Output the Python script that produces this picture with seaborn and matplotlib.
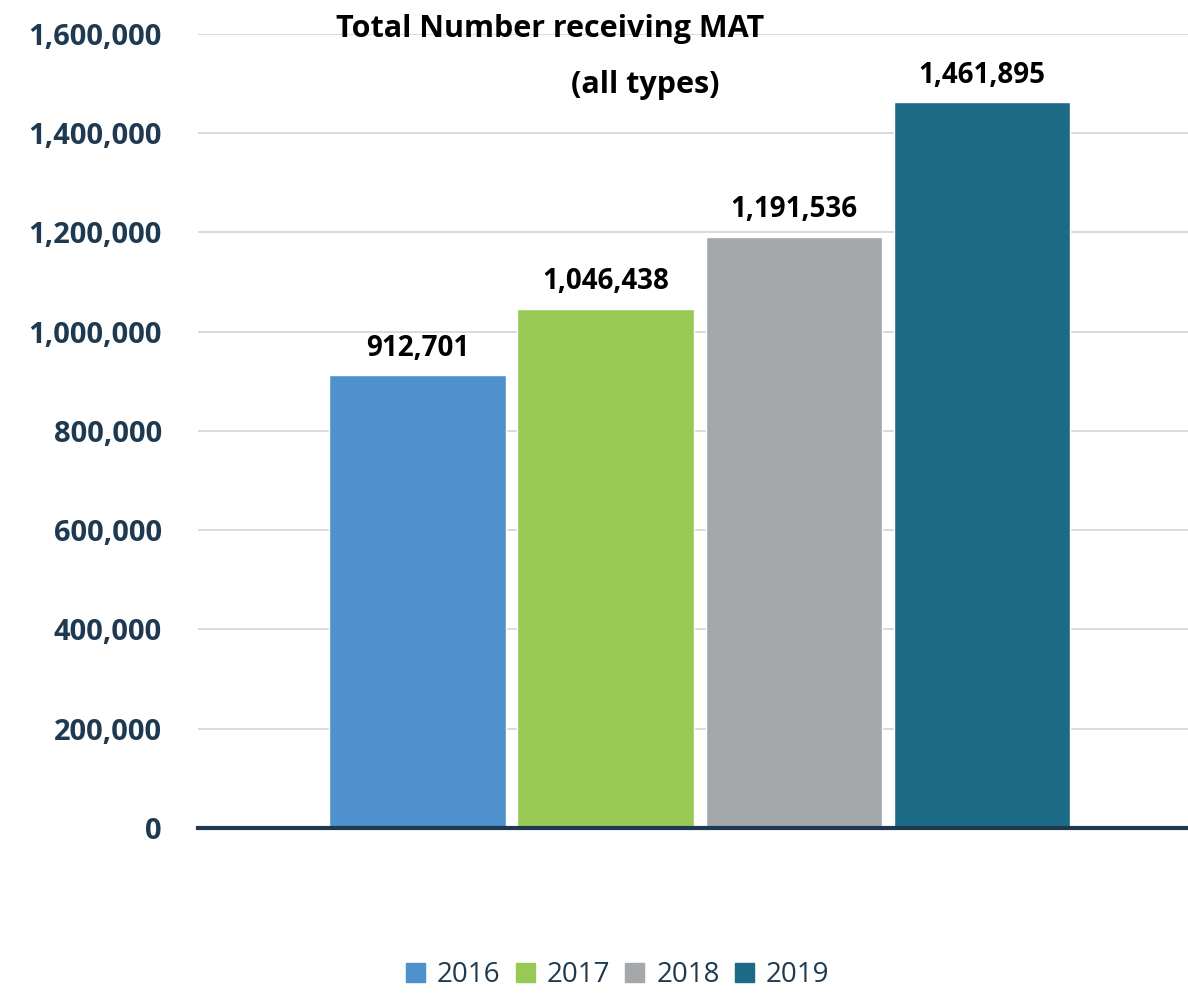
import pandas as pd
import matplotlib
matplotlib.use("Agg")
import matplotlib.pyplot as plt
from matplotlib import font_manager
import seaborn as sns
from matplotlib.ticker import FuncFormatter

years = ["2016", "2017", "2018", "2019"]
totals = [912701, 1046438, 1191536, 1461895]
colors = ["#4F91CD", "#98C954", "#A5A8AB", "#1D6A87"]
yticks = [0, 200000, 400000, 600000, 800000, 1000000, 1200000, 1400000, 1600000]

navy = "#1F3A50"

sns.set_style("white")
plt.rcParams["font.family"] = ["Open Sans", "DejaVu Sans"]

df = pd.DataFrame({"group": ["MAT"] * 4, "year": years, "total": totals})

fig = plt.figure(figsize=(11.88, 9.93), dpi=100)
ax = fig.add_axes([0.1667, 0.1662, 0.8333, 0.7996])

sns.barplot(data=df, x="group", y="total", hue="year", palette=colors,
            width=0.76, gap=0.06, saturation=1, ax=ax, legend=False, zorder=3)

ax.set_xlim(-0.507, 0.493)
ax.set_ylim(0, 1600000)
ax.set_yticks(yticks)
ax.yaxis.set_major_formatter(FuncFormatter(lambda v, p: f"{int(v):,}"))
ax.tick_params(axis="y", length=0, pad=26, labelsize=21, labelcolor=navy)
for t in ax.get_yticklabels():
    t.set_fontweight("bold")
ax.set_xticks([])
ax.set_xlabel("")
ax.set_ylabel("")
ax.grid(axis="y", color="#D4D4D4", linewidth=1.2, zorder=0)
for s in ["left", "right", "top"]:
    ax.spines[s].set_visible(False)
ax.spines["bottom"].set_color(navy)
ax.spines["bottom"].set_linewidth(3)
ax.spines["bottom"].set_zorder(5)

# labels over bars
for patch, val in zip(ax.patches, totals):
    ax.annotate(f"{val:,}", (patch.get_x() + patch.get_width() / 2, val),
                xytext=(0, 9), textcoords="offset points", ha="center", va="bottom",
                fontsize=20, fontweight="bold", color="black")

# title: the original uses a narrow bold face
names = {f.name for f in font_manager.fontManager.ttflist}
if "Liberation Sans Narrow" in names:
    tfont, tsize = ["Liberation Sans Narrow"], 25
else:
    tfont, tsize = ["Open Sans"], 22
fig.text(0.463, 0.963, "Total Number receiving MAT", ha="center", va="baseline",
         family=tfont, fontsize=tsize, fontweight="bold", color="black")
fig.text(0.543, 0.906, "(all types)", ha="center", va="baseline",
         family=tfont, fontsize=tsize, fontweight="bold", color="black")

handles = [plt.Rectangle((0, 0), 1, 1, color=c) for c in colors]
fig.legend(handles, years, loc="center", bbox_to_anchor=(0.52, 0.018), ncol=4,
           frameon=False, fontsize=20, handlelength=0.68, handleheight=0.68,
           handletextpad=0.43, columnspacing=0.55, labelcolor=navy)

fig.savefig("out.png", dpi=100)
